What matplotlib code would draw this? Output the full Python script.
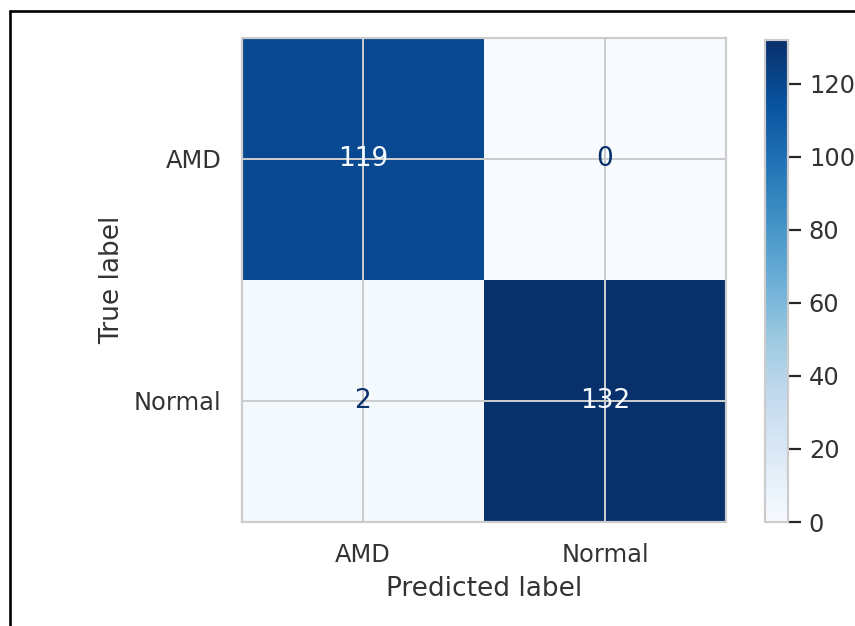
import numpy as np
import matplotlib
matplotlib.use("Agg")
import matplotlib.pyplot as plt
import seaborn as sns
from matplotlib.lines import Line2D

labels = ["AMD", "Normal"]
cm = np.array([[119, 0],
               [2, 132]])

sns.set_theme(style="whitegrid")
plt.rcParams['font.family'] = ['DejaVu Sans']
plt.rcParams['axes.linewidth'] = 1.0
plt.rcParams['grid.linewidth'] = 0.9
plt.rcParams['ytick.major.width'] = 1.0
plt.rcParams['text.color'] = '#333333'
plt.rcParams['axes.labelcolor'] = '#333333'
plt.rcParams['xtick.labelcolor'] = '#333333'
plt.rcParams['ytick.labelcolor'] = '#333333'

W, H, DPI = 856, 626, 158
fig = plt.figure(figsize=(W / DPI, H / DPI), dpi=DPI)
ax = fig.add_axes([242 / W, (H - 522) / H, 484 / W, 484 / H])
cax = fig.add_axes([765 / W, (H - 522) / H, 23 / W, 482 / H])

cmap = plt.get_cmap("Blues")
im = ax.imshow(cm, interpolation="nearest", cmap=cmap)
cbar = fig.colorbar(im, cax=cax)

thresh = (cm.max() + cm.min()) / 2.0
cmap_min, cmap_max = cmap(0.0), cmap(1.0)
for i in range(cm.shape[0]):
    for j in range(cm.shape[1]):
        color = cmap_max if cm[i, j] < thresh else cmap_min
        ax.text(j, i, format(cm[i, j], "d"), ha="center", va="center", color=color)

ax.set_xticks(np.arange(len(labels)))
ax.set_yticks(np.arange(len(labels)))
ax.set_xticklabels(labels)
ax.set_yticklabels(labels)
ax.set_xlabel("Predicted label")
ax.set_ylabel("True label")
ax.set_ylim(len(labels) - 0.5, -0.5)

# screenshot frame
fig.add_artist(Line2D([10 / W, 1.0], [1 - 11 / H, 1 - 11 / H], transform=fig.transFigure,
                      color="black", linewidth=1.2))
fig.add_artist(Line2D([10 / W, 10 / W], [0.0, 1 - 11 / H], transform=fig.transFigure,
                      color="black", linewidth=1.2))

fig.savefig("out.png", dpi=DPI, facecolor="white")
